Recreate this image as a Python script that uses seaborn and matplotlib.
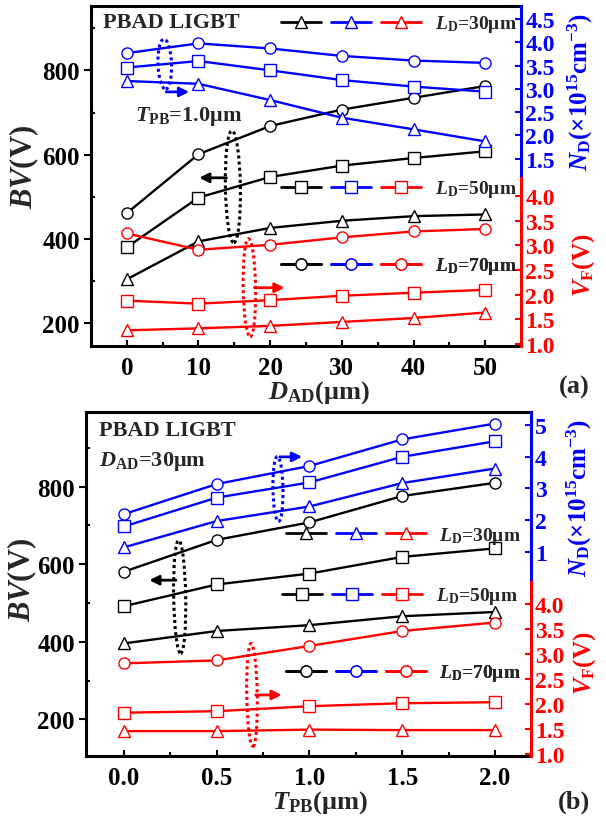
import numpy as np
import pandas as pd
import seaborn as sns
import matplotlib
matplotlib.use("Agg")
import matplotlib.pyplot as plt
from matplotlib.lines import Line2D
from matplotlib.legend_handler import HandlerTuple
from matplotlib.patches import Ellipse
from matplotlib.ticker import MultipleLocator, FormatStrFormatter, FixedLocator
import matplotlib.transforms as mtransforms

sns.set_theme(style="ticks")
plt.rcParams["font.family"] = ["Liberation Serif", "DejaVu Serif"]
plt.rcParams["font.weight"] = "bold"
plt.rcParams["mathtext.fontset"] = "custom"
plt.rcParams["mathtext.rm"] = "Liberation Serif:bold"
plt.rcParams["mathtext.it"] = "Liberation Serif:italic:bold"
plt.rcParams["mathtext.bf"] = "Liberation Serif:bold"

# ---------------- data: panel (a) ----------------
d_ad = [0, 10, 20, 30, 40, 50]
bv_a_70 = [461, 601, 668, 707, 735, 763]
bv_a_50 = [380, 498, 547, 574, 592, 608]
bv_a_30 = [304, 394, 426, 443, 454, 458]
nd_a_70 = [3.77, 3.98, 3.87, 3.71, 3.61, 3.56]
nd_a_50 = [3.46, 3.60, 3.40, 3.19, 3.05, 2.94]
nd_a_30 = [3.17, 3.11, 2.76, 2.38, 2.13, 1.87]
vf_a_70 = [3.24, 2.91, 3.01, 3.16, 3.28, 3.33]
vf_a_50 = [1.88, 1.82, 1.89, 1.98, 2.04, 2.10]
vf_a_30 = [1.28, 1.32, 1.37, 1.45, 1.53, 1.64]

# ---------------- data: panel (b) ----------------
t_pb = [0.0, 0.5, 1.0, 1.5, 2.0]
bv_b_70 = [581, 663, 708, 776, 810]
bv_b_50 = [492, 548, 576, 619, 641]
bv_b_30 = [396, 428, 443, 466, 477]
nd_b_70 = [2.19, 3.14, 3.71, 4.55, 5.05]
nd_b_50 = [1.80, 2.71, 3.19, 4.00, 4.49]
nd_b_30 = [1.14, 1.97, 2.43, 3.17, 3.63]
vf_b_70 = [2.81, 2.87, 3.16, 3.46, 3.63]
vf_b_50 = [1.82, 1.85, 1.95, 2.01, 2.03]
vf_b_30 = [1.45, 1.45, 1.48, 1.47, 1.47]

ld_labels = [r"$\mathit{L}_\mathrm{D}$=30μm", r"$\mathit{L}_\mathrm{D}$=50μm", r"$\mathit{L}_\mathrm{D}$=70μm"]
ld_markers = ["^", "s", "o"]

fig = plt.figure(figsize=(6.06, 8.2), dpi=100)
ax_a = fig.add_axes([0.150, 0.577, 0.710, 0.4145])
ax_b = fig.add_axes([0.142, 0.077, 0.734, 0.4195])

SPW = 2.2
LW = 1.7
MS = 8


def series(ax, x, y, color, marker):
    sns.lineplot(x=x, y=y, ax=ax, color=color, marker=marker, markersize=MS,
                 markerfacecolor="white", markeredgecolor=color, markeredgewidth=1.0,
                 linewidth=LW, estimator=None, sort=False)


def ellipse(ax, x, y, w_px, h_px, color, angle=0):
    tr = fig.dpi_scale_trans + mtransforms.ScaledTranslation(x, y, ax.transData)
    e = Ellipse((0, 0), w_px / 100, h_px / 100, angle=angle, fill=False,
                ls=(0, (1, 1)), lw=2.2, edgecolor=color, transform=tr, clip_on=False, zorder=5)
    ax.add_patch(e)


def arrow(ax, x0, x1, y, color):
    ax.annotate("", xy=(x1, y), xytext=(x0, y),
                arrowprops=dict(arrowstyle="-|>", color=color, lw=2, mutation_scale=14,
                                shrinkA=0, shrinkB=0), zorder=5)


def setup(ax, xlim, ylim, nd_lim, nd_bounds, nd_ticks, nd_fmt, vf_lim, vf_bounds,
          xmajor, xminor, xfmt):
    ax.set_xlim(*xlim)
    ax.set_ylim(*ylim)
    for s in ("left", "top", "bottom"):
        ax.spines[s].set_linewidth(SPW)
        ax.spines[s].set_color("black")
    ax.spines["right"].set_visible(False)
    ax.xaxis.set_major_locator(MultipleLocator(xmajor))
    ax.xaxis.set_minor_locator(MultipleLocator(xminor))
    ax.xaxis.set_major_formatter(FormatStrFormatter(xfmt))
    ax.yaxis.set_major_locator(MultipleLocator(200))
    ax.yaxis.set_minor_locator(MultipleLocator(100))
    ax.tick_params(which="both", direction="in", width=1.5, top=False, right=False,
                   colors="black", labelsize=18)
    ax.tick_params(axis="x", which="major", length=4, pad=7)
    ax.tick_params(axis="x", which="minor", length=3)
    ax.tick_params(axis="y", which="major", direction="out", length=5, pad=3)
    ax.tick_params(axis="y", which="minor", direction="in", length=3)
    for lab in ax.get_xticklabels() + ax.get_yticklabels():
        lab.set_fontweight("bold")

    ax_nd = ax.twinx()
    ax_vf = ax.twinx()
    for tw in (ax_nd, ax_vf):
        for s in ("left", "top", "bottom"):
            tw.spines[s].set_visible(False)
        tw.spines["right"].set_linewidth(SPW)
    ax_nd.set_ylim(*nd_lim)
    ax_nd.spines["right"].set_color("blue")
    ax_nd.spines["right"].set_bounds(*nd_bounds)
    ax_nd.yaxis.set_major_locator(FixedLocator(nd_ticks))
    ax_nd.yaxis.set_minor_locator(FixedLocator([]))
    ax_nd.yaxis.set_major_formatter(FormatStrFormatter(nd_fmt))
    ax_nd.tick_params(axis="y", direction="in", length=4, width=1.5, colors="blue",
                      labelsize=17, pad=3)
    ax_vf.set_ylim(*vf_lim)
    ax_vf.spines["right"].set_color("red")
    ax_vf.spines["right"].set_bounds(*vf_bounds)
    ax_vf.yaxis.set_major_locator(FixedLocator([1.0, 1.5, 2.0, 2.5, 3.0, 3.5, 4.0]))
    ax_vf.yaxis.set_minor_locator(FixedLocator([]))
    ax_vf.yaxis.set_major_formatter(FormatStrFormatter("%.1f"))
    ax_vf.tick_params(axis="y", direction="in", length=4, width=1.5, colors="red",
                      labelsize=17, pad=3)
    for tw in (ax_nd, ax_vf):
        for lab in tw.get_yticklabels():
            lab.set_fontweight("bold")
    return ax_nd, ax_vf


def legends(ax_top, ax, xs, ys):
    for i in range(3):
        hs = tuple(Line2D([], [], color=c, marker=ld_markers[i], markersize=MS,
                          markerfacecolor="white", markeredgecolor=c, markeredgewidth=1.0,
                          lw=2) for c in ("black", "blue", "red"))
        leg = ax_top.legend([hs], [ld_labels[i]],
                            handler_map={tuple: HandlerTuple(ndivide=None, pad=0.5)},
                            loc="center left", bbox_to_anchor=(xs[i], ys[i]),
                            bbox_transform=ax.transAxes, frameon=False, handlelength=7.2,
                            handletextpad=0.7, borderpad=0, borderaxespad=0,
                            prop={"size": 14, "weight": "bold"}, numpoints=1)
        ax_top.add_artist(leg)


# ---------------- panel (a) ----------------
nd_a, vf_a = setup(ax_a, (-5, 55), (146, 953), (-2.53, 4.785), (1.09, 4.785),
                   [1.5, 2.0, 2.5, 3.0, 3.5, 4.0, 4.5], "%.1f", (0.966, 7.84), (0.966, 4.37),
                   10, 5, "%d")
for vals, m in zip((bv_a_30, bv_a_50, bv_a_70), ld_markers):
    series(ax_a, d_ad, vals, "black", m)
for vals, m in zip((nd_a_30, nd_a_50, nd_a_70), ld_markers):
    series(nd_a, d_ad, vals, "blue", m)
for vals, m in zip((vf_a_30, vf_a_50, vf_a_70), ld_markers):
    series(vf_a, d_ad, vals, "red", m)
legends(vf_a, ax_a, [0.442, 0.442, 0.442], [0.947, 0.462, 0.235])

ax_a.set_xlabel(r"$\mathit{D}_\mathrm{AD}$(μm)", fontsize=19, fontweight="bold")
ax_a.xaxis.set_label_coords(0.53, -0.095)
ax_a.set_ylabel(r"$\mathit{BV}$(V)", fontsize=22, fontweight="bold")
ax_a.yaxis.set_label_coords(-0.115, 0.53)
nd_a.set_ylabel(r"$\mathit{N}_\mathrm{D}$(×10$^{15}$cm$^{-3}$)", fontsize=18,
                fontweight="bold", color="blue", rotation=90)
nd_a.yaxis.set_label_coords(1.105, 0.75)
vf_a.set_ylabel(r"$\mathit{V}_\mathrm{F}$(V)", fontsize=18, fontweight="bold",
                color="red", rotation=90)
vf_a.yaxis.set_label_coords(1.114, 0.241)

ax_a.text(0.028, 0.953, "PBAD LIGBT", transform=ax_a.transAxes, fontsize=16,
          fontweight="bold", ha="left", va="center")
ax_a.text(1.2, 692, r"$\mathit{T}_\mathrm{PB}$=1.0μm", fontsize=16, fontweight="bold",
          ha="left", va="center")
ellipse(ax_a, 5.3, 815, 13.5, 50, "blue", angle=2)
arrow(ax_a, 5.5, 8.7, 749, "blue")
ellipse(ax_a, 14.8, 524, 15, 112, "black", angle=1)
arrow(ax_a, 13.9, 10.1, 545, "black")
ellipse(ax_a, 17.1, 284, 12.4, 98, "red", angle=1)
arrow(ax_a, 17.8, 22.0, 284, "red")
fig.text(0.947, 0.527, "(a)", fontsize=19, fontweight="bold", ha="center", va="center")

# ---------------- panel (b) ----------------
nd_b, vf_b = setup(ax_b, (-0.205, 2.194), (106, 993), (-5.45, 5.42), (0.05, 5.42),
                   [1, 2, 3, 4, 5], "%d", (0.953, 7.86), (0.953, 4.45),
                   0.5, 0.25, "%.1f")
for vals, m in zip((bv_b_30, bv_b_50, bv_b_70), ld_markers):
    series(ax_b, t_pb, vals, "black", m)
for vals, m in zip((nd_b_30, nd_b_50, nd_b_70), ld_markers):
    series(nd_b, t_pb, vals, "blue", m)
for vals, m in zip((vf_b_30, vf_b_50, vf_b_70), ld_markers):
    series(vf_b, t_pb, vals, "red", m)
legends(vf_b, ax_b, [0.449, 0.441, 0.449], [0.642, 0.465, 0.241])

ax_b.set_xlabel(r"$\mathit{T}_\mathrm{PB}$(μm)", fontsize=19, fontweight="bold")
ax_b.xaxis.set_label_coords(0.526, -0.095)
ax_b.set_ylabel(r"$\mathit{BV}$(V)", fontsize=22, fontweight="bold")
ax_b.yaxis.set_label_coords(-0.106, 0.515)
nd_b.set_ylabel(r"$\mathit{N}_\mathrm{D}$(×10$^{15}$cm$^{-3}$)", fontsize=18,
                fontweight="bold", color="blue", rotation=90)
nd_b.yaxis.set_label_coords(1.076, 0.753)
vf_b.set_ylabel(r"$\mathit{V}_\mathrm{F}$(V)", fontsize=18, fontweight="bold",
                color="red", rotation=90)
vf_b.yaxis.set_label_coords(1.09, 0.273)

ax_b.text(0.029, 0.948, "PBAD LIGBT", transform=ax_b.transAxes, fontsize=16,
          fontweight="bold", ha="left", va="center")
ax_b.text(0.029, 0.86, r"$\mathit{D}_\mathrm{AD}$=30μm", transform=ax_b.transAxes,
          fontsize=16, fontweight="bold", ha="left", va="center")
ellipse(ax_b, 0.83, 794, 10, 65, "blue", angle=1)
arrow(ax_b, 0.84, 0.96, 877, "blue")
ellipse(ax_b, 0.30, 516, 12, 113, "black", angle=1)
arrow(ax_b, 0.28, 0.136, 559, "black")
ellipse(ax_b, 0.69, 263, 10.5, 103, "red", angle=1)
arrow(ax_b, 0.71, 0.85, 263, "red")
fig.text(0.947, 0.022, "(b)", fontsize=19, fontweight="bold", ha="center", va="center")

fig.savefig("out.png", dpi=100, facecolor="white")
